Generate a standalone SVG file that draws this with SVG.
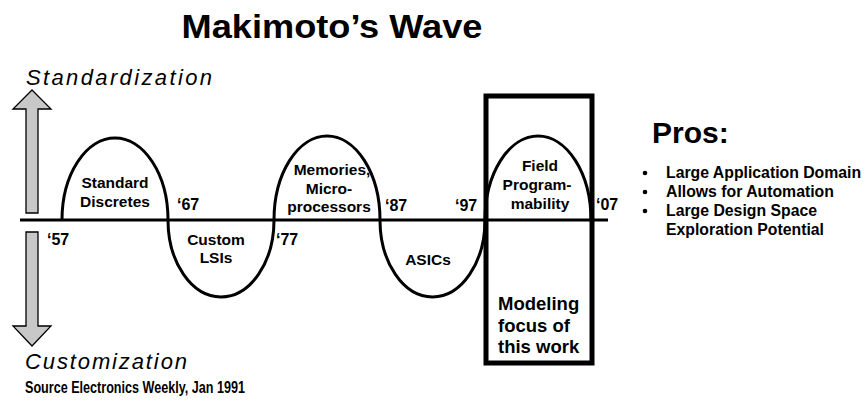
<svg xmlns="http://www.w3.org/2000/svg" width="865" height="402" viewBox="0 0 865 402">
<style>
  .t{font-family:"Liberation Sans",Arial,sans-serif;font-weight:bold;fill:#000}
  .lab{font-size:15.5px;text-anchor:middle}
  .yr{font-size:16px}
  .it{font-family:"Liberation Sans",Arial,sans-serif;font-style:italic;font-size:22px;fill:#000}
  .bul{font-size:15.8px}
  .arr{fill:#c8c8c8;stroke:#000;stroke-width:1.3}
  .line{fill:none;stroke:#000}
</style>
<rect width="865" height="402" fill="#fff"/>
<text class="t" x="332" y="38" font-size="34" text-anchor="middle" textLength="301" lengthAdjust="spacingAndGlyphs">Makimoto’s Wave</text>

<g id="axis-arrows">
  <polygon class="arr" points="32,90 51,109 38,109 38,213 26,213 26,109 13,109"/>
  <polygon class="arr" points="26,232 38,232 38,326 51,326 32,346 13,326 26,326"/>
  <text class="it" x="26" y="85" textLength="186">Standardization</text>
  <text class="it" x="25" y="369" textLength="162">Customization</text>
</g>

<g id="axis">
  <line class="line" x1="20" y1="220" x2="608" y2="220" stroke-width="3"/>
</g>

<g id="wave">
  <path class="line" stroke-width="3" d="M62,220 A53,82 0 0 1 168,220 A53,77 0 0 0 274,220 A53,84 0 0 1 380,220 A52.5,77 0 0 0 485,220 A53,84 0 0 1 591,220"/>
</g>

<g id="focus-box">
  <rect class="line" x="486" y="96" width="106" height="267" stroke-width="5"/>
  <text class="t" x="498" y="310" font-size="18.5">Modeling</text>
  <text class="t" x="498" y="332" font-size="18.5">focus of</text>
  <text class="t" x="498" y="353" font-size="18.5">this work</text>
</g>

<g id="era-discretes">
  <text class="t lab" x="115" y="188">Standard</text>
  <text class="t lab" x="115" y="207">Discretes</text>
</g>
<g id="era-custom-lsi">
  <text class="t lab" x="216" y="245">Custom</text>
  <text class="t lab" x="216" y="263">LSIs</text>
</g>
<g id="era-memories">
  <text class="t lab" x="332" y="175">Memories,</text>
  <text class="t lab" x="329" y="194">Micro-</text>
  <text class="t lab" x="329" y="212">processors</text>
</g>
<g id="era-asics">
  <text class="t lab" x="428" y="265">ASICs</text>
</g>
<g id="era-field">
  <text class="t lab" x="540" y="171">Field</text>
  <text class="t lab" x="537" y="190">Program-</text>
  <text class="t lab" x="540" y="209">mability</text>
</g>

<g id="years">
  <text class="t yr" x="47" y="245">‘57</text>
  <text class="t yr" x="177" y="210">‘67</text>
  <text class="t yr" x="276" y="245">‘77</text>
  <text class="t yr" x="385" y="211">‘87</text>
  <text class="t yr" x="455" y="211">‘97</text>
  <text class="t yr" x="596" y="210">‘07</text>
</g>

<g id="pros">
  <text class="t" x="652" y="143" font-size="30">Pros:</text>
  <circle cx="645" cy="173" r="2.3"/>
  <circle cx="645" cy="192" r="2.3"/>
  <circle cx="645" cy="211" r="2.3"/>
  <text class="t bul" x="666" y="178">Large Application Domain</text>
  <text class="t bul" x="666" y="197">Allows for Automation</text>
  <text class="t bul" x="666" y="216">Large Design Space</text>
  <text class="t bul" x="666" y="235">Exploration Potential</text>
</g>

<g id="source">
  <text class="t" x="25" y="393" font-size="16" textLength="220" lengthAdjust="spacingAndGlyphs">Source Electronics Weekly, Jan 1991</text>
</g>
</svg>
